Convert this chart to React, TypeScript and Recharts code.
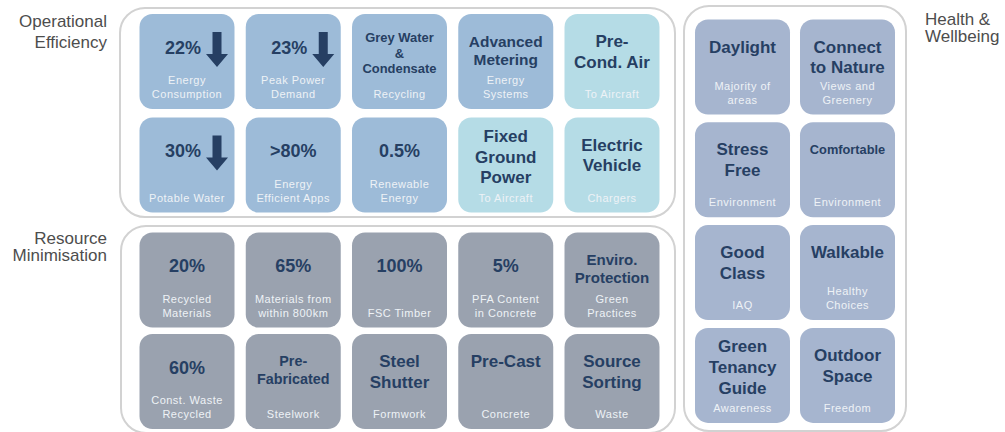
import { ScatterChart, Scatter, XAxis, YAxis } from "recharts";

// grid tiles: col/row are the cell of each tile inside its panel
const opTiles = [
  { col: 0, row: 0, value: "22%", arrow: true, sub: ["Energy", "Consumption"] },
  { col: 1, row: 0, value: "23%", arrow: true, sub: ["Peak Power", "Demand"] },
  { col: 2, row: 0, title: ["Grey Water", "&", "Condensate"], sub: ["Recycling"] },
  { col: 3, row: 0, title: ["Advanced", "Metering"], sub: ["Energy", "Systems"] },
  { col: 4, row: 0, title: ["Pre-", "Cond. Air"], sub: ["To Aircraft"], kind: "transport" },
  { col: 0, row: 1, value: "30%", arrow: true, sub: ["Potable Water"] },
  { col: 1, row: 1, value: ">80%", sub: ["Energy", "Efficient Apps"] },
  { col: 2, row: 1, value: "0.5%", sub: ["Renewable", "Energy"] },
  { col: 3, row: 1, title: ["Fixed", "Ground", "Power"], sub: ["To Aircraft"], kind: "transport" },
  { col: 4, row: 1, title: ["Electric", "Vehicle"], sub: ["Chargers"], kind: "transport" },
];

const resTiles = [
  { col: 0, row: 0, value: "20%", sub: ["Recycled", "Materials"] },
  { col: 1, row: 0, value: "65%", sub: ["Materials from", "within 800km"] },
  { col: 2, row: 0, value: "100%", sub: ["FSC Timber"] },
  { col: 3, row: 0, value: "5%", sub: ["PFA Content", "in Concrete"] },
  { col: 4, row: 0, title: ["Enviro.", "Protection"], sub: ["Green", "Practices"] },
  { col: 0, row: 1, value: "60%", sub: ["Const. Waste", "Recycled"] },
  { col: 1, row: 1, title: ["Pre-", "Fabricated"], sub: ["Steelwork"] },
  { col: 2, row: 1, title: ["Steel", "Shutter"], sub: ["Formwork"] },
  { col: 3, row: 1, title: ["Pre-Cast"], sub: ["Concrete"] },
  { col: 4, row: 1, title: ["Source", "Sorting"], sub: ["Waste"] },
];

const healthTiles = [
  { col: 0, row: 0, title: ["Daylight"], sub: ["Majority of", "areas"] },
  { col: 1, row: 0, title: ["Connect", "to Nature"], sub: ["Views and", "Greenery"] },
  { col: 0, row: 1, title: ["Stress", "Free"], sub: ["Environment"] },
  { col: 1, row: 1, title: ["Comfortable"], sub: ["Environment"] },
  { col: 0, row: 2, title: ["Good", "Class"], sub: ["IAQ"] },
  { col: 1, row: 2, title: ["Walkable"], sub: ["Healthy", "Choices"] },
  { col: 0, row: 3, title: ["Green", "Tenancy", "Guide"], sub: ["Awareness"] },
  { col: 1, row: 3, title: ["Outdoor", "Space"], sub: ["Freedom"] },
];

const FONT = '"Liberation Sans", Arial, sans-serif';
const DARK = "#263f63";
const TILE_W = 95;
const TILE_H = 95;

// rough Arial bold glyph widths in em, only used to shrink long titles
const em = (s: string) => {
  let w = 0;
  for (const c of s) {
    if ("il.,:;'|I".includes(c) || c === " ") w += 0.278;
    else if ("ftrj-".includes(c)) w += 0.35;
    else if ("mw".includes(c)) w += 0.89;
    else if ("MW%".includes(c)) w += 0.9;
    else if (c >= "A" && c <= "Z") w += 0.72;
    else if (c === "&") w += 0.72;
    else w += 0.6;
  }
  return w;
};

const Tile = (props: any) => {
  const { cx, cy, payload, fill } = props;
  const x = cx - TILE_W / 2;
  const y = cy - TILE_H / 2;
  const bottom = y + TILE_H;
  const sub: string[] = payload.sub || [];
  const title: string[] = payload.title || [];

  let fs = 17;
  title.forEach((t) => (fs = Math.min(fs, 76 / em(t))));
  const lh = fs * 1.22;
  const first = Math.min(27, 39 - ((title.length - 1) * lh) / 2);

  return (
    <g>
      <rect x={x} y={y} width={TILE_W} height={TILE_H} rx={13} ry={13}
        fill={payload.kind === "transport" ? "#b5dce6" : fill} />
      {payload.value && (
        <text x={payload.arrow ? cx + 14 : cx} y={y + 39.5}
          textAnchor={payload.arrow ? "end" : "middle"}
          fontFamily={FONT} fontWeight="bold" fontSize={18} fill={DARK}>
          {payload.value}
        </text>
      )}
      {payload.arrow && (
        <path
          d={`M${cx + 25.5},${y + 18} h9 v22 h6.5 L${cx + 30},${y + 53} L${cx + 19},${y + 40} h6.5 Z`}
          fill={DARK} />
      )}
      {title.map((t, i) => (
        <text key={t + i} x={cx} y={y + first + i * lh + fs * 0.36} textAnchor="middle"
          fontFamily={FONT} fontWeight="bold" fontSize={fs} fill={DARK}>
          {t}
        </text>
      ))}
      {sub.map((s, i) => (
        <text key={s + i} x={cx} y={bottom - 11 - (sub.length - 1 - i) * 14} textAnchor="middle"
          fontFamily={FONT} fontSize={11} letterSpacing={0.5} fill="#eef2f6">
          {s}
        </text>
      ))}
    </g>
  );
};

type Panel = {
  data: any[]; cols: number; rows: number; fill: string;
  left: number; top: number; w: number; h: number;
  cx0: number; cy0: number; px: number; py: number;
};

const TilePanel = ({ p }: { p: Panel }) => {
  const ml = p.cx0 - p.left - p.px / 2;
  const mt = p.cy0 - p.top - p.py / 2;
  const margin = {
    left: ml,
    top: mt,
    right: p.w - ml - p.cols * p.px,
    bottom: p.h - mt - p.rows * p.py,
  };
  return (
    <>
      <div style={{
        position: "absolute", left: p.left, top: p.top, width: p.w, height: p.h,
        boxSizing: "border-box", border: "2px solid #d2d2d2", borderRadius: 26,
      }} />
      <div style={{ position: "absolute", left: p.left, top: p.top }}>
        <ScatterChart width={p.w} height={p.h} margin={margin}>
          <XAxis type="number" dataKey="col" domain={[-0.5, p.cols - 0.5]} hide />
          <YAxis type="number" dataKey="row" domain={[-0.5, p.rows - 0.5]} reversed hide />
          <Scatter data={p.data} fill={p.fill} isAnimationActive={false}
            shape={(s: any) => <Tile {...s} fill={p.fill} />} />
        </ScatterChart>
      </div>
    </>
  );
};

const label = (text: string[], style: any) => (
  <div style={{
    position: "absolute", fontFamily: FONT, fontSize: 17, color: "#4d4d4d", ...style,
  }}>
    {text.map((t) => <div key={t}>{t}</div>)}
  </div>
);

export default function App() {
  const op: Panel = { data: opTiles, cols: 5, rows: 2, fill: "#9dbbd8",
    left: 119, top: 7, w: 557, h: 211, cx0: 187, cy0: 61.5, px: 106.25, py: 103.5 };
  const res: Panel = { data: resTiles, cols: 5, rows: 2, fill: "#9aa2af",
    left: 120, top: 225, w: 556, h: 209, cx0: 187, cy0: 280, px: 106.25, py: 101.5 };
  const hw: Panel = { data: healthTiles, cols: 2, rows: 4, fill: "#a6b5cf",
    left: 683, top: 5, w: 224, h: 427, cx0: 742.5, cy0: 67, px: 105, py: 102.8 };

  return (
    <div style={{ position: "absolute", left: 0, top: 0, width: 1005, height: 432, overflow: "hidden", background: "#fff" }}>
      {label(["Operational", "Efficiency"], { right: 1005 - 107, top: 11, textAlign: "right", lineHeight: "21px" })}
      {label(["Resource", "Minimisation"], { right: 1005 - 107, top: 230, textAlign: "right", lineHeight: "17px" })}
      {label(["Health &", "Wellbeing"], { left: 925, top: 11, textAlign: "left", lineHeight: "17px" })}
      <TilePanel p={op} />
      <TilePanel p={res} />
      <TilePanel p={hw} />
    </div>
  );
}
